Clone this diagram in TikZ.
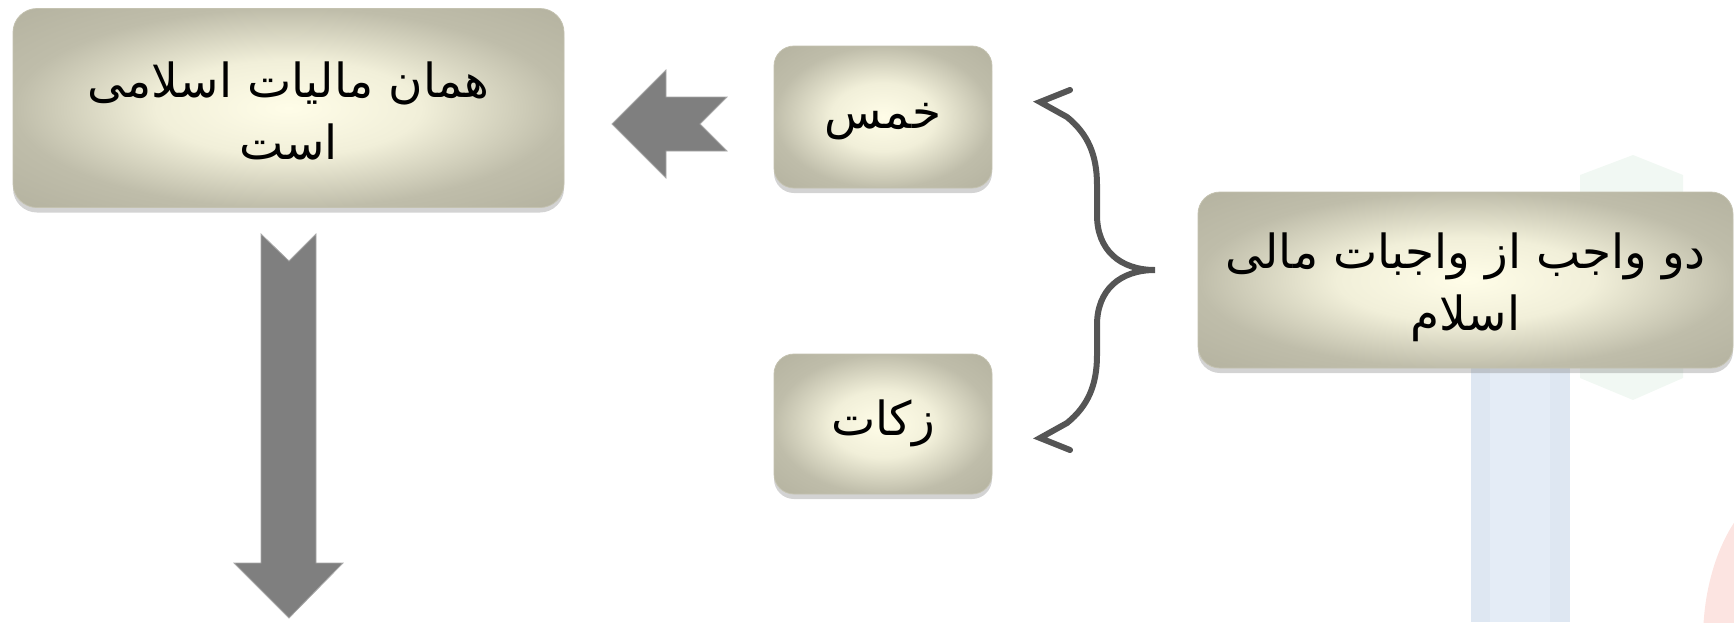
\documentclass[tikz,border=0pt]{standalone}
\usepackage{fontspec}
\newfontfamily\arabicfont[Script=Arabic]{DejaVu Sans}
\TeXXeTstate=1
\usetikzlibrary{shadows}
\definecolor{boxlight}{HTML}{FFFDE8}
\definecolor{boxmid}{HTML}{F1EFD9}
\definecolor{boxdark}{HTML}{BFBDAA}
\definecolor{boxedge}{HTML}{A6A492}
\definecolor{edgecol}{HTML}{C4C2B0}
\definecolor{arrowgrey}{HTML}{7F7F7F}
\definecolor{arrowedge}{HTML}{A8A8A8}
\definecolor{bracegrey}{HTML}{555555}
\definecolor{wmblue}{HTML}{DEE7F2}
\definecolor{wmblue2}{HTML}{E4ECF6}
\definecolor{wmgreen}{HTML}{F1F8F3}
\definecolor{wmpink}{HTML}{FCE4E1}
\pgfdeclareradialshading{beigebox}{\pgfpoint{0bp}{0bp}}{color(0bp)=(boxlight); color(12bp)=(boxmid); color(25bp)=(boxdark); color(50bp)=(boxedge)}
\tikzset{
  beigebox/.style={rounded corners=24pt, shading=beigebox, draw=edgecol, line width=0.8pt,
    drop shadow={shadow xshift=0pt, shadow yshift=-5pt, opacity=0.35}, inner sep=0pt},
  boxtext/.style={align=center, inner sep=0pt, text=black,
    font=\arabicfont\fontsize{47}{62}\selectfont},
  blockarrow/.style={fill=arrowgrey, draw=arrowedge, line width=0.8pt, line join=miter},
  bracepath/.style={draw=bracegrey, line width=6pt, line cap=round, line join=miter}
}
\begin{document}
\begin{tikzpicture}[x=1pt,y=-1pt]
\useasboundingbox (0,0) rectangle (1734,622);
% watermark background
\fill[wmblue] (1471,300) rectangle (1570,622);
\fill[wmblue2] (1490,300) rectangle (1550,622);
\fill[wmgreen] (1580,175) -- (1633,155) -- (1683,175) -- (1683,378) -- (1633,400) -- (1580,378) -- cycle;
\fill[wmpink] (1800,640) ellipse [x radius=97pt, y radius=160pt];
% boxes
\node[beigebox, minimum width=551pt, minimum height=199pt] (tax) at (288.5,108) {};
\node[boxtext] (taxtext) at ([yshift=-3pt]tax.center)
  {\beginR همان مالیات اسلامی\endR\\\beginR است\endR};
\node[beigebox, rounded corners=20pt, minimum width=218pt, minimum height=142pt] (khums) at (883,117) {};
\node[boxtext] (khumstext) at ([yshift=-5pt]khums.center) {\beginR خمس\endR};
\node[beigebox, rounded corners=20pt, minimum width=218pt, minimum height=140pt] (zakat) at (883,424) {};
\node[boxtext] (zakattext) at ([yshift=1pt]zakat.center) {\beginR زکات\endR};
\node[beigebox, rounded corners=22pt, minimum width=535pt, minimum height=176pt] (duty) at (1465.5,280) {};
\node[boxtext] (dutytext) at ([yshift=-7pt]duty.center)
  {\beginR دو واجب از واجبات مالی\endR\\\beginR اسلام\endR};
% block arrows
\draw[blockarrow] (612,124) -- (666,70) -- (666,97) -- (727,97) -- (700,124) -- (727,151) -- (666,151) -- (666,178) -- cycle;
\draw[blockarrow] (261,234) -- (289,261) -- (316,234) -- (316,563) -- (343,563) -- (289,618) -- (234,563) -- (261,563) -- cycle;
% brace
\coordinate (btip) at (1155,270);
\coordinate (ttop) at (1040,102);
\coordinate (tbot) at (1040,438);
\draw[bracepath] (1070,90) -- (ttop) -- (1067,117)
  .. controls (1088,134) and (1097,155) .. (1097,185) -- (1097,215)
  .. controls (1097,250) and (1120,270) .. (btip)
  .. controls (1120,270) and (1097,290) .. (1097,325) -- (1097,355)
  .. controls (1097,385) and (1088,406) .. (1067,423) -- (tbot) -- (1070,450);
\end{tikzpicture}
\end{document}
